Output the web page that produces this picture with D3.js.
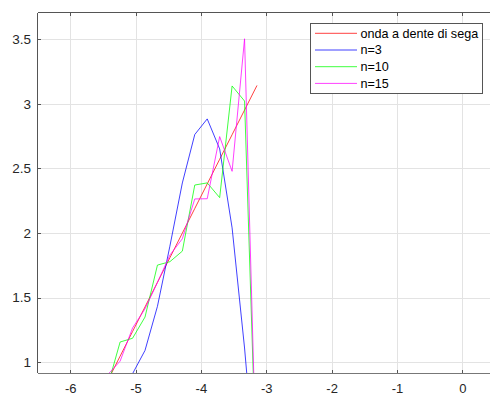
<!DOCTYPE html>
<html>
<head>
<meta charset="utf-8">
<script src="https://cdn.jsdelivr.net/npm/d3@7"></script>
<style>
  html, body { margin: 0; padding: 0; background: #fff; }
  svg { display: block; font-family: "Liberation Sans", Arial, Helvetica, sans-serif; }
</style>
</head>
<body>
<svg id="chart" width="490" height="396"></svg>
<script>
// Sample abscissae (one period step of 6π/99, from about -5.62 up to -π)
const xs = [-5.61679, -5.42639, -5.23599, -5.04559, -4.85519, -4.66479, -4.47439,
            -4.28399, -4.09359, -3.90319, -3.71279, -3.52239, -3.33199, -3.14159];

// Sawtooth wave and its partial Fourier sums at the same abscissae
const sawtooth = [0.66643, 0.85680, 1.04720, 1.23760, 1.42800, 1.61840, 1.80880,
                  1.99920, 2.18960, 2.38000, 2.57040, 2.76080, 2.95120, 3.14159];
const n3  = [0.87094, 0.88210, 0.86603, 0.91142, 1.09146, 1.43292, 1.89802,
             2.38724, 2.76200, 2.88286, 2.65082, 2.03984, 1.11058, 0];
const n10 = [0.59934, 0.81546, 1.15676, 1.18570, 1.34976, 1.75180, 1.77810,
             1.85964, 2.37122, 2.38764, 2.27384, 3.13764, 3.02102, 0];
const n15 = [0.61232, 0.90394, 1.00882, 1.26516, 1.41352, 1.61710, 1.82916,
             1.95528, 2.26360, 2.26528, 2.74604, 2.47726, 3.50256, 0];

const seriesNames  = ["onda a dente di sega", "n=3", "n=10", "n=15"];
const seriesColors = ["#ff0000", "#0000ff", "#00ff00", "#ff00ff"];
const seriesValues = [sawtooth, n3, n10, n15];

const xTicks = [-6, -5, -4, -3, -2, -1, 0];
const yTicks = [1, 1.5, 2, 2.5, 3, 3.5];
const xLimits = [-6.5, 0.5];
const yLimits = [0.917, 3.706];

const svg = d3.select("#chart");
const plot = { left: 37.5, right: 495, top: 12.5, bottom: 373 };

const x = d3.scaleLinear().domain(xLimits).range([plot.left, plot.right]);
const y = d3.scaleLinear().domain(yLimits).range([plot.bottom, plot.top]);

svg.append("defs").append("clipPath").attr("id", "plotClip")
  .append("rect")
  .attr("x", plot.left).attr("y", plot.top)
  .attr("width", plot.right - plot.left).attr("height", plot.bottom - plot.top);

// Grid
const grid = svg.append("g").attr("shape-rendering", "crispEdges");
grid.selectAll("line.gx").data(xTicks).join("line")
  .attr("x1", d => Math.round(x(d)) + 0.5).attr("x2", d => Math.round(x(d)) + 0.5)
  .attr("y1", plot.top).attr("y2", plot.bottom)
  .attr("stroke", "#e3e3e3").attr("stroke-width", 1);
grid.selectAll("line.gy").data(yTicks).join("line")
  .attr("y1", d => Math.round(y(d)) + 0.5).attr("y2", d => Math.round(y(d)) + 0.5)
  .attr("x1", plot.left).attr("x2", plot.right)
  .attr("stroke", "#e3e3e3").attr("stroke-width", 1);

// Curves
const line = d3.line().x((d, i) => x(xs[i])).y(d => y(d));
const curves = svg.append("g").attr("clip-path", "url(#plotClip)");
seriesValues.forEach((vals, i) => {
  curves.append("path")
    .attr("d", line(vals))
    .attr("fill", "none")
    .attr("stroke", seriesColors[i])
    .attr("stroke-width", 1)
    .attr("stroke-opacity", 0.75)
    .attr("stroke-linejoin", "round");
});

// Axes: bottom and left with inward ticks, plus the top box edge
const axisColor = "#555";
const tickLen = 3.5;

const xAxis = d3.axisBottom(x).tickValues(xTicks).tickSize(0).tickPadding(0)
  .tickFormat(d => String(d));
const gx = svg.append("g").attr("transform", `translate(0,${plot.bottom})`).call(xAxis);
gx.select(".domain").remove();
gx.selectAll("text")
  .attr("y", 20).attr("dy", null)
  .attr("font-size", "13px").attr("fill", "#262626")
  .attr("font-family", "Liberation Sans, Arial, sans-serif");

const yAxis = d3.axisLeft(y).tickValues(yTicks).tickSize(0).tickPadding(6.5)
  .tickFormat(d => String(d));
const gy = svg.append("g").attr("transform", `translate(${plot.left},0)`).call(yAxis);
gy.select(".domain").remove();
gy.selectAll("text").attr("font-size", "13.5px").attr("fill", "#262626")
  .attr("font-family", "Liberation Sans, Arial, sans-serif");

const frame = svg.append("g").attr("shape-rendering", "crispEdges")
  .attr("stroke", axisColor).attr("stroke-width", 1);
frame.append("line").attr("x1", plot.left).attr("x2", plot.right)
  .attr("y1", plot.bottom + 0.5).attr("y2", plot.bottom + 0.5).attr("stroke", "#777");
frame.append("line").attr("x1", plot.left).attr("x2", plot.right)
  .attr("y1", plot.top).attr("y2", plot.top);
frame.append("line").attr("x1", plot.left).attr("x2", plot.left)
  .attr("y1", plot.top).attr("y2", plot.bottom);

frame.selectAll("line.tb").data(xTicks).join("line")
  .attr("x1", d => Math.round(x(d)) + 0.5).attr("x2", d => Math.round(x(d)) + 0.5)
  .attr("y1", plot.bottom).attr("y2", plot.bottom - tickLen);
frame.selectAll("line.tt").data(xTicks).join("line")
  .attr("x1", d => Math.round(x(d)) + 0.5).attr("x2", d => Math.round(x(d)) + 0.5)
  .attr("y1", plot.top).attr("y2", plot.top + tickLen);
frame.selectAll("line.tl").data(yTicks).join("line")
  .attr("y1", d => Math.round(y(d)) + 0.5).attr("y2", d => Math.round(y(d)) + 0.5)
  .attr("x1", plot.left).attr("x2", plot.left + tickLen);

// Legend
const legend = svg.append("g");
legend.append("rect")
  .attr("x", 310.5).attr("y", 23.5).attr("width", 172).attr("height", 69.5)
  .attr("fill", "#fff").attr("stroke", "#555").attr("stroke-width", 1)
  .attr("shape-rendering", "crispEdges");
seriesNames.forEach((name, i) => {
  const ly = 33.3 + i * 16.7;
  legend.append("line")
    .attr("x1", 315).attr("x2", 357).attr("y1", ly).attr("y2", ly)
    .attr("stroke", seriesColors[i]).attr("stroke-width", 1).attr("stroke-opacity", 0.75);
  legend.append("text")
    .attr("x", 360.5).attr("y", ly).attr("dy", "0.35em")
    .attr("font-size", "12.6px").attr("fill", "#000")
    .text(name);
});
</script>
</body>
</html>
